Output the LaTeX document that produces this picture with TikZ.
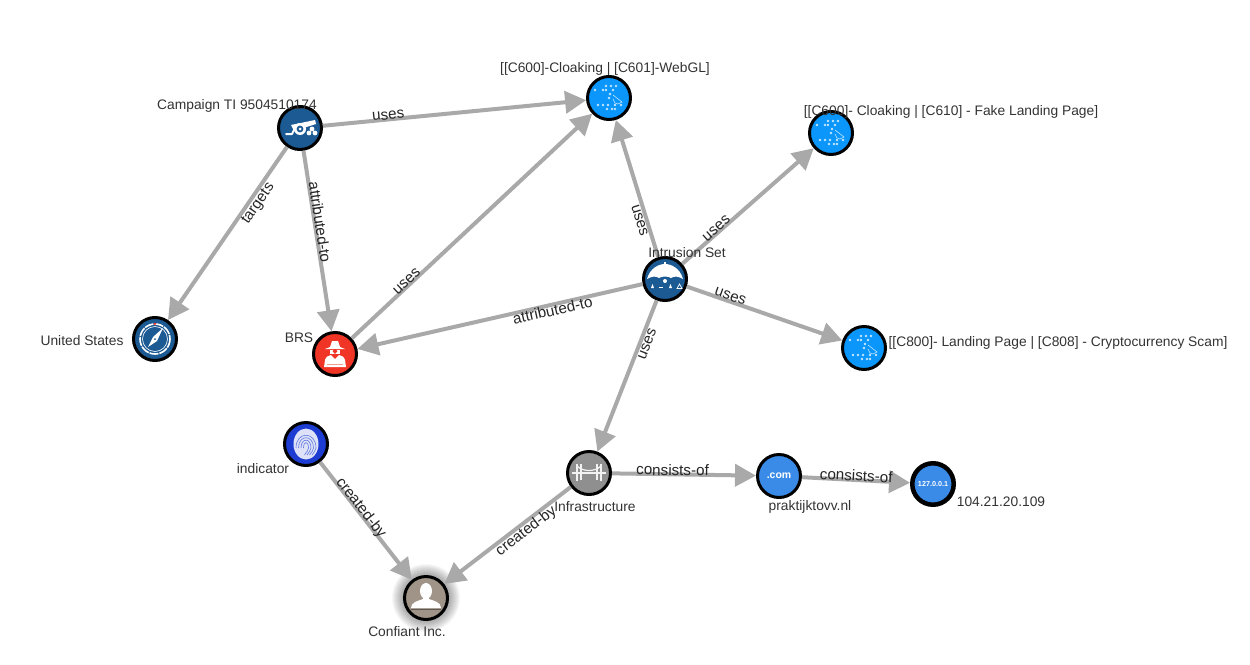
\documentclass[tikz,border=0pt]{standalone}
\usepackage{fontspec}
\setmainfont{Liberation Sans}
\usetikzlibrary{arrows.meta}
\definecolor{edgegray}{HTML}{A9A9A9}
\definecolor{labeltxt}{HTML}{333333}
\definecolor{campblue}{HTML}{1C5A94}
\definecolor{ttpblue}{HTML}{0A96FA}
\definecolor{ttpdot}{HTML}{C4E6FF}
\definecolor{brsred}{HTML}{F03526}
\definecolor{indblue}{HTML}{1C3CD2}
\definecolor{infragray}{HTML}{8F8F8F}
\definecolor{dnsblue}{HTML}{3A8AE8}
\definecolor{orgtan}{HTML}{A09488}
\tikzset{
  x=1pt,y=-1pt,
  ent/.style={circle,draw=black,line width=3pt,minimum size=43pt,inner sep=0pt,text=white},
  entthick/.style={ent,line width=4.5pt,minimum size=41.5pt},
  nlabel/.style={text=labeltxt,inner sep=0pt,yshift=-2pt,font=\fontsize{13.8}{16}\selectfont},
  rel/.style={draw=edgegray,line width=4pt,-{Triangle[length=21pt,width=22pt,fill=edgegray]}},
  elabel/.style={sloped,inner sep=0pt,text=black!85,text height=8pt,text depth=2pt,font=\fontsize{15.2}{17}\selectfont},
  icon/.style={fill=white,draw=none},
  iconline/.style={draw=white,line cap=round,line join=round}
}
\newcommand{\iconDots}[2]{\begin{scope}[shift={(#1,#2)}]
  \foreach \a/\b in {-3/-12,2/-12,7/-12,-14/-8,-6/-8,-3/-8,4/-8,1/-4,0/0,-11/7,-6/7,-1/7,6/7,12/7,-2/11,3/11,6/11}
    {\fill[ttpdot] (\a,\b) circle (1.3);}
  \draw[ttpdot,line width=.6pt] (4,-3) -- (13,4) -- (9,6) (4,1) -- (6,5) -- (9,6);
  \end{scope}}
\newcommand{\iconCannon}[2]{\begin{scope}[shift={(#1,#2)}]
  \fill[icon] (-9,-3) -- (15,-8) -- (16,-4) -- (-6,3) -- cycle;
  \draw[iconline,line width=2pt] (-14,6) -- (-8,6) -- (-5,0);
  \fill[icon] (0,1) circle (6);
  \fill[campblue] (0,1) circle (3.4);
  \fill[icon] (0,1) circle (1.5);
  \fill[icon] (9,5) circle (2.4) (15,5) circle (2.4) (12,1) circle (2.4);
  \end{scope}}
\newcommand{\iconUmbrella}[2]{\begin{scope}[shift={(#1,#2)}]
  \fill[icon] (-18,0) .. controls (-15,-11) and (-6,-15) .. (0,-15) .. controls (6,-15) and (15,-11) .. (18,0)
     .. controls (13,-3) and (9,-3) .. (6,-1) .. controls (3,-3) and (-3,-3) .. (-6,-1) .. controls (-9,-3) and (-13,-3) .. cycle;
  \fill[icon] (-1,-17) rectangle (1,-13);
  \fill[icon] (0,2) circle (2);
  \fill[icon] (-14,9) -- (-12.5,5) -- (-11,9) -- cycle;
  \fill[icon] (-6,8) rectangle (-2,9);
  \fill[icon] (4,9) -- (5.5,5) -- (7,9) -- cycle;
  \draw[white,line width=.7pt] (12,9.5) -- (14.5,5) -- (17,9.5) -- cycle;
  \end{scope}}
\newcommand{\iconCompass}[2]{\begin{scope}[shift={(#1,#2)}]
  \draw[white,line width=1.6pt,dashed,dash pattern=on 9pt off 1pt] (0,0) circle (15);
  \draw[white,line width=.6pt] (0,0) circle (12.5);
  \fill[icon] (8,-11) -- (2,2) -- (-7,8) -- (-2,-2) -- cycle;
  \fill[campblue] (0,0) circle (1);
  \fill[brsred] (-1.5,-16) -- (1.5,-16) -- (0,-13.5) -- cycle;
  \end{scope}}
\newcommand{\iconSpy}[2]{\begin{scope}[shift={(#1,#2)}]
  \fill[white] (-10,-5) -- (-5,-7) -- (-3,-13) -- (3,-13) -- (5,-7) -- (10,-5) -- cycle;
  \fill[white] (-5,-4) rectangle (5,0);
  \fill[white] (-11,13) -- (-10,6) .. controls (-9,2) and (-6,2) .. (-4,1) -- (0,5) -- (4,1) .. controls (6,2) and (9,2) .. (10,6) -- (11,13) -- cycle;
  \fill[brsred] (-2.5,-3) -- (0,-5) -- (2.5,-3) -- (0,0) -- cycle;
  \fill[brsred!50!white] (-8,10) rectangle (8,11);
  \end{scope}}
\newcommand{\iconPrint}[2]{\begin{scope}[shift={(#1,#2)}]
  \fill[white!85!indblue] (0,0) ellipse (12.5 and 15.5);
  \foreach \r in {2.5,5,7.5,10}
    {\draw[indblue!70!white,line width=.6pt] (-\r,4) .. controls (-\r,-1.3*\r) and (\r,-1.3*\r) .. (\r,4) .. controls (\r,6) and (\r-2,8) .. (\r-4,11);}
  \end{scope}}
\newcommand{\iconBridge}[2]{\begin{scope}[shift={(#1,#2)}]
  \draw[white!90!gray,line width=1.6pt] (-12,-9) -- (-12,8) (12,-9) -- (12,8);
  \draw[white!90!gray,line width=1.2pt] (-17,0) -- (17,0) (-8,-9) -- (-8,7) (8,-9) -- (8,7);
  \draw[white!90!gray,line width=1.2pt] (-12,-7) .. controls (-6,-1) and (6,-1) .. (12,-7);
  \end{scope}}
\newcommand{\iconPerson}[2]{\begin{scope}[shift={(#1,#2)}]
  \fill[icon] (0,-7) ellipse (6 and 8);
  \fill[icon] (-3,-2) rectangle (3,3);
  \fill[icon] (-15,10) .. controls (-15,4) and (-8,3) .. (-3,1) -- (3,1) .. controls (8,3) and (15,4) .. (15,10) -- cycle;
  \fill[orgtan!60!black] (-15,11) rectangle (15,12);
  \end{scope}}
\begin{document}
\begin{tikzpicture}
\useasboundingbox (0,0) rectangle (1250,664);
\fill[white] (0,0) rectangle (1250,664);
% soft halo of Confiant
\foreach \r in {24,25,...,34}{\fill[black,opacity=.03] (426,598) circle (\r);}
% entities
\node[ent,fill=campblue] (camp) at (300,128) {};
\node[ent,fill=ttpblue] (webgl) at (609,98) {};
\node[ent,fill=ttpblue] (fake) at (831,133) {};
\node[ent,fill=campblue] (iset) at (665,279) {};
\node[ent,fill=ttpblue] (scam) at (864,348) {};
\node[ent,fill=campblue] (us) at (155,339) {};
\node[ent,fill=brsred] (brs) at (335,354) {};
\node[ent,fill=indblue] (ind) at (306,444) {};
\node[ent,fill=infragray] (infra) at (589,473) {};
\node[ent,fill=dnsblue,font=\bfseries\fontsize{10.5}{12}\selectfont] (dom) at (779,476) {.com};
\node[entthick,fill=dnsblue,font=\bfseries\fontsize{7.2}{8}\selectfont] (ip) at (933,484) {127.0.0.1};
\node[ent,fill=orgtan] (org) at (426,598) {};
% icons
\iconCannon{300}{128}
\iconDots{609}{98}
\iconDots{831}{133}
\iconUmbrella{665}{279}
\iconDots{864}{348}
\iconCompass{155}{339}
\iconSpy{335}{354}
\iconPrint{306}{444}
\iconBridge{589}{473}
\iconPerson{426}{598}
% relations
\draw[rel] (camp) -- node[elabel,pos=.25,above=-4pt] {uses} (webgl);
\draw[rel] (camp) -- node[elabel,pos=.30,below=2pt] {targets} (us);
\draw[rel] (camp) -- node[elabel,pos=.40,above=-4pt] {attributed-to} (brs);
\draw[rel] (brs) -- node[elabel,pos=.24,above=-4pt] {uses} (webgl);
\draw[rel] (iset) -- node[elabel,pos=.28,below=1pt] {uses} (webgl);
\draw[rel] (iset) -- node[elabel,pos=.28,above=-4pt] {uses} (fake);
\draw[rel] (iset) -- node[elabel,pos=.32,below=1pt] {attributed-to} (brs);
\draw[rel] (iset) -- node[elabel,pos=.27,above=-3pt] {uses} (scam);
\draw[rel] (iset) -- node[elabel,pos=.27,below=1pt] {uses} (infra);
\draw[rel] (ind) -- node[elabel,pos=.41,above=-4pt] {created-by} (org);
\draw[rel] (infra) -- node[elabel,pos=.39,below=2pt] {created-by} (org);
\draw[rel] (infra) -- node[elabel,pos=.42,above=-5pt] {consists-of} (dom);
\draw[rel] (dom) -- node[elabel,pos=.5,above=-5pt] {consists-of} (ip);
% entity names
\node[nlabel] (lcamp) at (237,104) {Campaign TI 9504510174};
\node[nlabel] (lwebgl) at (605,67) {[[C600]-Cloaking | [C601]-WebGL]};
\node[nlabel] (lfake) at (951,110) {[[C600]- Cloaking | [C610] - Fake Landing Page]};
\node[nlabel] (liset) at (687,251) {Intrusion Set};
\node[nlabel] (lscam) at (1058,341) {[[C800]- Landing Page | [C808] - Cryptocurrency Scam]};
\node[nlabel] (lus) at (82,339) {United States};
\node[nlabel] (lbrs) at (299,336) {BRS};
\node[nlabel] (lind) at (263,467) {indicator};
\node[nlabel] (linfra) at (595,505) {Infrastructure};
\node[nlabel] (ldom) at (810,505) {praktijktovv.nl};
\node[nlabel] (lip) at (1001,500) {104.21.20.109};
\node[nlabel] (lorg) at (407,630) {Confiant Inc.};
\end{tikzpicture}
\end{document}
